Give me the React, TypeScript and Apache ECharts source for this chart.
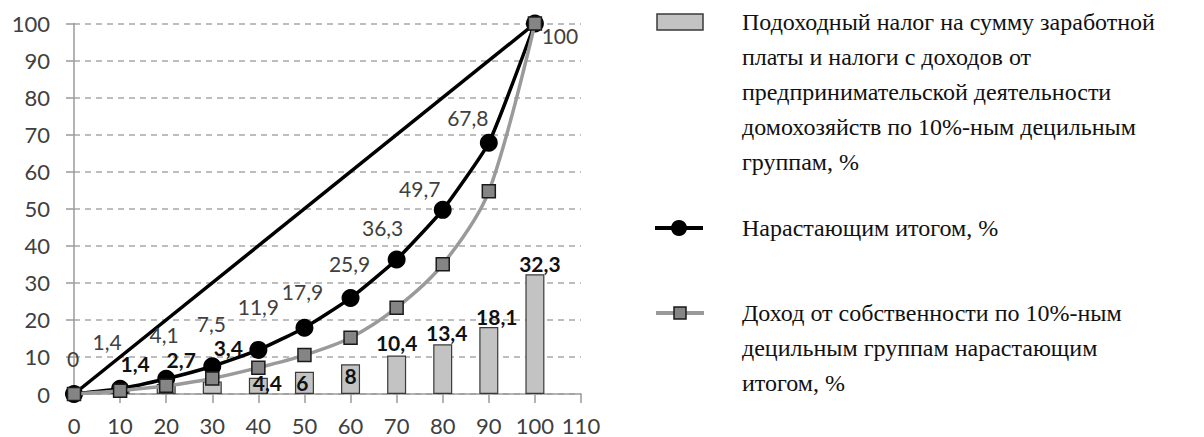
import React, { useEffect, useRef } from "react";
import * as echarts from "echarts";

// ---- data ----
const deciles = [0, 10, 20, 30, 40, 50, 60, 70, 80, 90, 100];
const cumulativeTotal = [0, 1.4, 4.1, 7.5, 11.9, 17.9, 25.9, 36.3, 49.7, 67.8, 100];
const propertyIncomeCumulative = [0, 0.9, 2.2, 4.2, 7.1, 10.5, 15.2, 23.3, 35, 54.7, 100];
const barDeciles = [10, 20, 30, 40, 50, 60, 70, 80, 90, 100];
const incomeTax = [1.4, 2.7, 3.4, 4.4, 6, 8, 10.4, 13.4, 18.1, 32.3];
const equalityX = [0, 100];
const equalityY = [0, 100];

const legendBar = [
  "Подоходный налог на сумму заработной",
  "платы и налоги с доходов от",
  "предпринимательской деятельности",
  "домохозяйств по 10%-ным децильным",
  "группам, %",
];
const legendCum = ["Нарастающим итогом, %"];
const legendProp = [
  "Доход от собственности по 10%-ным",
  "децильным группам нарастающим",
  "итогом, %",
];

// ---- label placement (styling, not data) ----
const cumLabelOffsets = [
  [-1, -36], [-13, -47], [-2, -44], [-1, -43], [0, -43], [-2, -36],
  [-1, -35], [-14, -32], [-23, -21], [-21, -25], [25, 12],
];
const barLabelOffsets = [
  [15, -25], [15, -24], [16, -34], [9, 5], [-2, 11], [0, 11],
  [0, -13], [4, -12], [8, -10], [5, -11],
];

const fmt = (v: number) => String(v).replace(".", ",");

const LABEL_FONT = "Lato";
const LEGEND_FONT = "Liberation Serif";

export default function App() {
  const ref = useRef<HTMLDivElement>(null);
  useEffect(() => {
    document.body.style.margin = "0";
    if (!ref.current) return;
    const chart = echarts.init(ref.current, undefined, { renderer: "svg" });

    const legendText = (lines: string[], top: number) => ({
      type: "text",
      left: 742,
      top,
      style: {
        text: lines.join("\n"),
        font: `24px "${LEGEND_FONT}"`,
        lineHeight: 35,
        fill: "#111",
      },
    });

    const option: any = {
      animation: false,
      backgroundColor: "#fff",
      grid: { left: 74, right: 623, top: 23.5, bottom: 43, containLabel: false },
      xAxis: {
        type: "value",
        min: 0,
        max: 110,
        interval: 10,
        axisLine: { lineStyle: { color: "#9a9a9a", width: 1.5 } },
        axisTick: { show: true, length: 9, lineStyle: { color: "#9a9a9a", width: 1.5 } },
        axisLabel: { color: "#404040", fontFamily: LABEL_FONT, fontSize: 22, margin: 20 },
        splitLine: { show: false },
      },
      yAxis: {
        type: "value",
        min: 0,
        max: 100,
        interval: 10,
        axisLine: { show: true, lineStyle: { color: "#9a9a9a", width: 1.5 } },
        axisTick: { show: true, length: 8, lineStyle: { color: "#9a9a9a", width: 1.5 } },
        axisLabel: { color: "#404040", fontFamily: LABEL_FONT, fontSize: 22, margin: 24 },
        splitLine: { show: true, lineStyle: { color: "#a8a8a8", type: [6, 5], width: 1.5 } },
      },
      series: [
        {
          type: "bar",
          name: "tax",
          barWidth: 19,
          itemStyle: { color: "#c3c3c3", borderColor: "#3a3a3a", borderWidth: 1.2 },
          label: {
            show: true,
            position: "top",
            distance: 0,
            verticalAlign: "middle",
            align: "center",
            fontFamily: LABEL_FONT,
            fontWeight: "bold",
            fontSize: 21,
            lineHeight: 18,
            color: "#111",
            formatter: (p: any) => fmt(p.value[1]),
          },
          data: barDeciles.map((x, i) => ({
            value: [x, incomeTax[i]],
            label: { offset: barLabelOffsets[i] },
          })),
          z: 1,
        },
        {
          type: "line",
          name: "equality",
          showSymbol: false,
          symbol: "none",
          lineStyle: { color: "#000", width: 3.5 },
          data: equalityX.map((x, i) => [x, equalityY[i]]),
          z: 2,
        },
        {
          type: "line",
          name: "cumulative",
          smooth: 0.15,
          symbol: "circle",
          symbolSize: 18,
          itemStyle: { color: "#000" },
          lineStyle: { color: "#000", width: 3.5 },
          label: {
            show: true,
            position: "inside",
            fontFamily: LABEL_FONT,
            fontSize: 21,
            lineHeight: 18,
            color: "#404040",
            formatter: (p: any) => fmt(p.value[1]),
          },
          data: deciles.map((x, i) => ({
            value: [x, cumulativeTotal[i]],
            label: { offset: cumLabelOffsets[i] },
          })),
          z: 3,
        },
        {
          type: "line",
          name: "property",
          smooth: 0.3,
          symbol: "rect",
          symbolSize: 13,
          itemStyle: { color: "#858585", borderColor: "#1a1a1a", borderWidth: 1.5 },
          lineStyle: { color: "#9a9a9a", width: 3.5 },
          data: deciles.map((x, i) => [x, propertyIncomeCumulative[i]]),
          z: 4,
        },
      ],
      graphic: [
        {
          type: "rect",
          shape: { x: 657, y: 14, width: 46, height: 16 },
          style: { fill: "#c3c3c3", stroke: "#3a3a3a", lineWidth: 1.5 },
        },
        legendText(legendBar, 4.5),
        {
          type: "line",
          shape: { x1: 655, y1: 228, x2: 703, y2: 228 },
          style: { stroke: "#000", lineWidth: 4 },
        },
        {
          type: "circle",
          shape: { cx: 679, cy: 228, r: 8 },
          style: { fill: "#000" },
        },
        legendText(legendCum, 210.5),
        {
          type: "line",
          shape: { x1: 656, y1: 313, x2: 704, y2: 313 },
          style: { stroke: "#9a9a9a", lineWidth: 4 },
        },
        {
          type: "rect",
          shape: { x: 674, y: 307, width: 12, height: 12 },
          style: { fill: "#858585", stroke: "#1a1a1a", lineWidth: 1.5 },
        },
        legendText(legendProp, 295.5),
      ],
    };
    chart.setOption(option);
    return () => chart.dispose();
  }, []);
  return <div ref={ref} style={{ width: 1204, height: 437 }} />;
}
